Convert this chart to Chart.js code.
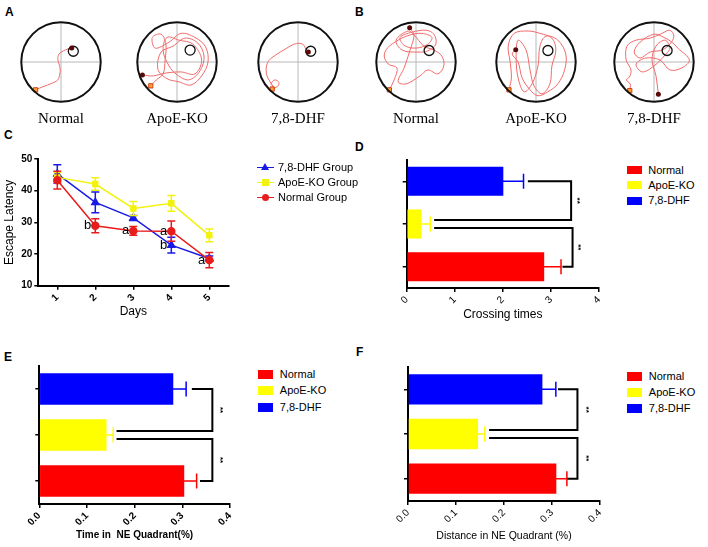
<!DOCTYPE html>
<html>
<head>
<meta charset="utf-8">
<script src="https://cdn.jsdelivr.net/npm/chart.js@4"></script>
<style>
  body { margin: 0; background: #fff; }
  #page { position: relative; width: 708px; height: 547px; overflow: hidden; font-family: "Liberation Sans", Arial, sans-serif; }
  #page canvas { position: absolute; }
  .letter { position: absolute; font-weight: bold; font-size: 12px; line-height: 14px; }
  .pool-label { position: absolute; width: 110px; text-align: center; font-family: "Liberation Serif", serif; font-size: 15px; line-height: 18px; }
  .lg { position: absolute; font-size: 11px; line-height: 13px; white-space: nowrap; }
  .lg-box { position: absolute; }
  .lg-line { position: absolute; height: 1.5px; width: 17px; }
  .mk { position: absolute; }
</style>
</head>
<body>
<div id="page">
  <div class="letter" style="left:5px;top:5px">A</div>
  <div class="letter" style="left:355px;top:5px">B</div>
  <div class="letter" style="left:4px;top:128px">C</div>
  <div class="letter" style="left:355px;top:140px">D</div>
  <div class="letter" style="left:4px;top:350px">E</div>
  <div class="letter" style="left:356px;top:345px">F</div>

  <canvas id="poolA0" width="100" height="100" style="left:11px;top:12px"></canvas>
  <canvas id="poolA1" width="100" height="100" style="left:127px;top:12px"></canvas>
  <canvas id="poolA2" width="100" height="100" style="left:248px;top:12px"></canvas>
  <canvas id="poolB0" width="100" height="100" style="left:366px;top:12px"></canvas>
  <canvas id="poolB1" width="100" height="100" style="left:486px;top:12px"></canvas>
  <canvas id="poolB2" width="100" height="100" style="left:604px;top:12px"></canvas>

  <canvas id="chartLatency" width="240" height="173" style="left:0px;top:150px"></canvas>
  <canvas id="chartCrossing" width="260" height="176" style="left:354px;top:150px"></canvas>
  <canvas id="chartTime" width="250" height="192" style="left:0px;top:355px"></canvas>
  <canvas id="chartDistance" width="260" height="192" style="left:354px;top:355px"></canvas>
</div>
<script>
// ---- data ----
const groups = ['Normal', 'ApoE-KO', '7,8-DHF'];
const groupColors = ['#ff0000', '#ffff00', '#0000ff'];

const days = ['1', '2', '3', '4', '5'];
const latencySeries = ['7,8-DHF Group', 'ApoE-KO Group', 'Normal Group'];
const latencyDHF = [45.3, 36.3, 31.4, 22.8, 18.6];
const latencyDHFErr = [2.9, 3.3, 0.8, 2.5, 0.8];
const latencyApoE = [44.2, 42.1, 34.4, 36.0, 25.9];
const latencyApoEErr = [1.5, 2.0, 2.2, 2.5, 2.0];
const latencyNormal = [43.3, 28.9, 27.3, 27.2, 18.1];
const latencyNormalErr = [2.8, 2.2, 1.4, 3.2, 2.4];

// significance letters on the latency chart
const letterSeries = ['Normal Group', 'Normal Group', 'Normal Group', '7,8-DHF Group', 'Normal Group'];
const letterDay = ['2', '3', '4', '4', '5'];
const letterText = ['b', 'a', 'a', 'b', 'a'];

const crossings = [2.86, 0.31, 2.01];
const crossingsErr = [0.35, 0.18, 0.42];
const timeNE = [0.304, 0.141, 0.281];
const timeNEErr = [0.026, 0.014, 0.027];
const distNE = [0.309, 0.146, 0.280];
const distNEErr = [0.022, 0.014, 0.028];

// brackets: [from group, to group, x start, x right, x end]
const crossBrackets = [[2, 1, 2.52, 3.42, 0.57], [1, 0, 0.57, 3.45, 3.24]];
const timeBrackets = [[2, 1, 0.32, 0.363, 0.162], [1, 0, 0.162, 0.363, 0.337]];
const distBrackets = [[2, 1, 0.3125, 0.353, 0.169], [1, 0, 0.169, 0.353, 0.332]];

// swim paths, pool radius = 1, first point = start, last point = end
const platformA = [[0.31, 0.27], [0.33, 0.30], [0.32, 0.27]];
const platformB = [[0.33, 0.29], [0.30, 0.29], [0.33, 0.29]];

const pathANormal = [[-0.64, -0.70], [-0.45, -0.62], [-0.24, -0.54], [-0.08, -0.45], [-0.03, -0.30],
  [-0.02, -0.18], [-0.05, -0.05], [-0.08, 0.08], [-0.05, 0.20], [0.06, 0.28], [0.18, 0.33], [0.27, 0.35]];
const pathAApoE = [[-0.66, -0.60], [-0.52, -0.45], [-0.35, -0.30], [-0.30, 0.05], [-0.28, 0.45], [-0.40, 0.70],
  [-0.62, 0.62], [-0.55, 0.35], [-0.20, 0.50], [0.10, 0.72], [0.45, 0.62], [0.72, 0.38], [0.78, 0.0],
  [0.62, -0.35], [0.35, -0.58], [0.05, -0.50], [-0.25, -0.42], [-0.48, -0.18], [-0.40, 0.25], [-0.10, 0.40],
  [0.20, 0.60], [0.52, 0.48], [0.68, 0.15], [0.58, -0.22], [0.30, -0.45], [0.0, -0.32], [-0.20, -0.10],
  [-0.35, 0.30], [-0.25, 0.62], [0.05, 0.55], [0.40, 0.45], [0.62, 0.05], [0.45, -0.30], [0.10, -0.25],
  [-0.30, -0.28], [-0.60, -0.35], [-0.87, -0.33]];
const pathADHF = [[-0.65, -0.68], [-0.52, -0.62], [-0.48, -0.52], [-0.58, -0.45], [-0.68, -0.55], [-0.62, -0.62],
  [-0.70, -0.50], [-0.78, -0.35], [-0.80, -0.15], [-0.74, 0.03], [-0.60, 0.15], [-0.45, 0.25], [-0.28, 0.35],
  [-0.12, 0.44], [0.05, 0.47], [0.15, 0.42], [0.20, 0.32], [0.26, 0.25]];
const pathBNormal = [[-0.67, -0.70], [-0.55, -0.45], [-0.48, -0.15], [-0.70, -0.05], [-0.80, 0.15], [-0.72, 0.35],
  [-0.45, 0.55], [-0.15, 0.68], [0.15, 0.72], [0.40, 0.62], [0.30, 0.45], [0.0, 0.35], [-0.30, 0.42],
  [-0.40, 0.62], [-0.10, 0.75], [0.25, 0.80], [0.45, 0.70], [0.50, 0.45], [0.30, 0.28], [0.05, 0.25],
  [-0.35, 0.30], [-0.50, 0.55], [-0.20, 0.78], [-0.05, 0.68], [0.20, 0.40], [0.45, 0.30], [0.65, 0.15],
  [0.70, -0.10], [0.55, -0.30], [0.30, -0.20], [0.10, -0.35], [-0.25, -0.55], [-0.45, -0.50], [-0.30, -0.15],
  [-0.15, 0.30], [-0.05, 0.68], [-0.16, 0.86]];
const pathBApoE = [[-0.68, -0.70], [-0.62, -0.40], [-0.65, 0.0], [-0.70, 0.40], [-0.55, 0.72], [-0.20, 0.78],
  [0.10, 0.72], [0.40, 0.60], [0.50, 0.30], [0.40, -0.10], [0.35, -0.55], [0.15, -0.80], [-0.05, -0.60],
  [-0.15, -0.20], [-0.25, 0.30], [-0.45, 0.55], [-0.50, 0.10], [-0.45, -0.40], [-0.30, -0.75], [-0.10, -0.55],
  [0.05, -0.10], [0.10, 0.40], [0.25, 0.65], [0.55, 0.55], [0.75, 0.20], [0.72, -0.20], [0.55, -0.55],
  [0.30, -0.75], [0.05, -0.85], [-0.15, -0.70], [-0.35, -0.40], [-0.45, 0.0], [-0.60, 0.20], [-0.51, 0.31]];
const pathBDHF = [[-0.61, -0.72], [-0.60, -0.55], [-0.70, -0.45], [-0.62, -0.38], [-0.58, -0.20], [-0.70, 0.05],
  [-0.68, 0.40], [-0.45, 0.55], [-0.10, 0.60], [0.20, 0.72], [0.40, 0.80], [0.50, 0.65], [0.40, 0.45],
  [0.20, 0.30], [-0.10, 0.25], [-0.35, 0.10], [-0.50, 0.25], [-0.35, 0.50], [0.0, 0.70], [0.25, 0.62],
  [0.45, 0.50], [0.60, 0.35], [0.89, 0.05], [0.70, -0.15], [0.40, -0.20], [0.15, 0.05], [-0.20, 0.10],
  [-0.45, -0.05], [-0.30, -0.25], [0.0, -0.10], [0.30, 0.20], [0.40, 0.35], [0.28, 0.55], [0.05, 0.40],
  [-0.05, 0.05], [0.05, -0.35], [0.11, -0.81]];
const crossH = [[-1, 0], [1, 0]];
const crossV = [[0, -1], [0, 1]];

Chart.defaults.font.family = '"Liberation Sans", Arial, sans-serif';
Chart.defaults.color = '#000';
Chart.defaults.animation = false;

// ---- plugins ----
const poolRingPlugin = {
  id: 'poolRing',
  afterDatasetsDraw(chart) {
    const { x, y } = chart.scales;
    const cx = x.getPixelForValue(0);
    const cy = y.getPixelForValue(0);
    const r = x.getPixelForValue(1) - cx;
    const ctx = chart.ctx;
    ctx.save();
    ctx.strokeStyle = '#111';
    ctx.lineWidth = 2;
    ctx.beginPath();
    ctx.arc(cx, cy, r, 0, Math.PI * 2);
    ctx.stroke();
    ctx.restore();
  },
};

const errorBarsPlugin = {
  id: 'errorBars',
  afterDatasetDraw(chart, args, opts) {
    const errs = opts.errors && opts.errors[args.index];
    if (!errs) return;
    const ds = chart.data.datasets[args.index];
    const horiz = chart.options.indexAxis === 'y';
    const vScale = horiz ? chart.scales.x : chart.scales.y;
    const ctx = chart.ctx;
    const c = opts.cap;
    ctx.save();
    ctx.lineWidth = 1.5;
    args.meta.data.forEach((el, j) => {
      const v = ds.data[j];
      ctx.strokeStyle = Array.isArray(ds.backgroundColor) ? ds.backgroundColor[j] : ds.borderColor;
      const hi = vScale.getPixelForValue(v + errs[j]);
      const lo = vScale.getPixelForValue(horiz ? v : v - errs[j]);
      ctx.beginPath();
      if (horiz) {
        ctx.moveTo(lo - 3, el.y);
        ctx.lineTo(hi, el.y);
        ctx.moveTo(hi, el.y - c);
        ctx.lineTo(hi, el.y + c);
      } else {
        ctx.moveTo(el.x, lo);
        ctx.lineTo(el.x, hi);
        ctx.moveTo(el.x - c, hi);
        ctx.lineTo(el.x + c, hi);
        ctx.moveTo(el.x - c, lo);
        ctx.lineTo(el.x + c, lo);
      }
      ctx.stroke();
    });
    ctx.restore();
  },
};

const bracketsPlugin = {
  id: 'sigBrackets',
  afterDatasetsDraw(chart, args, opts) {
    const { x, y } = chart.scales;
    const ctx = chart.ctx;
    ctx.save();
    ctx.strokeStyle = '#000';
    ctx.fillStyle = '#000';
    ctx.lineWidth = 2;
    ctx.font = 'bold 8px "Liberation Sans"';
    ctx.textAlign = 'center';
    ctx.textBaseline = 'middle';
    opts.brackets.forEach(([from, to, xStart, xRight, xEnd]) => {
      let yA = y.getPixelForValue(from);
      let yB = y.getPixelForValue(to);
      if (from === 1) yA += yB > yA ? 4 : -4;
      if (to === 1) yB += yA > yB ? 4 : -4;
      const xr = x.getPixelForValue(xRight);
      ctx.beginPath();
      ctx.moveTo(x.getPixelForValue(xStart), yA);
      ctx.lineTo(xr, yA);
      ctx.lineTo(xr, yB);
      ctx.lineTo(x.getPixelForValue(xEnd), yB);
      ctx.stroke();
      ctx.save();
      ctx.translate(xr + opts.starOffset, (yA + yB) / 2);
      ctx.rotate(Math.PI / 2);
      ctx.fillText('**', 0, 0);
      ctx.restore();
    });
    ctx.restore();
  },
};

const lettersPlugin = {
  id: 'letters',
  afterDatasetsDraw(chart) {
    const ctx = chart.ctx;
    ctx.save();
    ctx.font = '13px "Liberation Sans"';
    ctx.fillStyle = '#000';
    ctx.textAlign = 'right';
    ctx.textBaseline = 'middle';
    letterText.forEach((t, i) => {
      const dsIndex = chart.data.datasets.findIndex((d) => d.label === letterSeries[i]);
      const el = chart.getDatasetMeta(dsIndex).data[days.indexOf(letterDay[i])];
      ctx.fillText(t, el.x - 4, el.y);
    });
    ctx.restore();
  },
};

function toPts(list) {
  return list.map(([x, y]) => ({ x, y }));
}

function axisGrid() {
  return { display: true, drawOnChartArea: false, drawTicks: true, tickLength: 4, color: '#000', lineWidth: 1.5, offset: false };
}

// ---- swim paths ----
function makePool(id, path, platform) {
  new Chart(document.getElementById(id), {
    type: 'scatter',
    data: {
      datasets: [
        { data: toPts([path[path.length - 1]]), pointRadius: 2.5, backgroundColor: '#5a0808', borderWidth: 0 },
        { data: toPts([path[0]]), pointStyle: 'rect', pointRadius: 3, backgroundColor: '#f7a030', borderColor: '#d0401a', borderWidth: 1 },
        { data: toPts([platform]), pointRadius: 5, backgroundColor: 'rgba(0,0,0,0)', borderColor: '#111', borderWidth: 1.3 },
        { data: toPts(path), showLine: true, tension: 0.35, borderColor: '#f26a6a', borderWidth: 1, pointRadius: 0 },
        { data: toPts(crossH), showLine: true, borderColor: '#b8b8b8', borderWidth: 1, pointRadius: 0 },
        { data: toPts(crossV), showLine: true, borderColor: '#b8b8b8', borderWidth: 1, pointRadius: 0 },
      ],
    },
    options: {
      responsive: false,
      events: [],
      layout: { padding: 0 },
      plugins: { legend: { display: false }, tooltip: { enabled: false } },
      scales: {
        x: { display: false, min: -1.1, max: 1.1 },
        y: { display: false, min: -1.1, max: 1.1 },
      },
    },
    plugins: [poolRingPlugin],
  });
}

makePool('poolA0', pathANormal, platformA[0]);
makePool('poolA1', pathAApoE, platformA[1]);
makePool('poolA2', pathADHF, platformA[2]);
makePool('poolB0', pathBNormal, platformB[0]);
makePool('poolB1', pathBApoE, platformB[1]);
makePool('poolB2', pathBDHF, platformB[2]);

// ---- escape latency ----
const latencyColors = ['#1a1ae6', '#f2f20f', '#e81c1c'];
const latencyPoints = ['triangle', 'rect', 'circle'];
new Chart(document.getElementById('chartLatency'), {
  type: 'line',
  data: {
    labels: days,
    datasets: [latencyDHF, latencyApoE, latencyNormal].map((vals, i) => ({
      label: latencySeries[i],
      data: vals,
      borderColor: latencyColors[i],
      backgroundColor: latencyColors[i],
      pointBackgroundColor: latencyColors[i],
      pointBorderColor: latencyColors[i],
      pointStyle: latencyPoints[i],
      pointRadius: i === 0 ? 4 : 3.5,
      borderWidth: 1.5,
      order: 3 - i,
    })),
  },
  options: {
    responsive: false,
    events: [],
    layout: { padding: { top: 9, right: 11.7, left: 0, bottom: 0 } },
    plugins: {
      legend: { display: false },
      tooltip: { enabled: false },
      errorBars: { errors: [latencyDHFErr, latencyApoEErr, latencyNormalErr], cap: 4 },
    },
    scales: {
      x: {
        type: 'category',
        offset: true,
        grid: axisGrid(),
        border: { display: true, color: '#000', width: 2 },
        ticks: { minRotation: 45, maxRotation: 45, padding: 2, font: { size: 10, weight: 'bold' } },
        title: { display: true, text: 'Days', font: { size: 12 } },
        afterFit: (s) => { s.height = 37.3; },
      },
      y: {
        min: 10,
        max: 50,
        grid: axisGrid(),
        border: { display: true, color: '#000', width: 2 },
        ticks: { stepSize: 10, padding: 2, font: { size: 10, weight: 'bold' } },
        title: { display: true, text: 'Escape Latency', font: { size: 12 }, padding: { top: 2, bottom: 0 } },
        afterFit: (s) => { s.width = 38.3; },
      },
    },
  },
  plugins: [errorBarsPlugin, lettersPlugin],
});

// ---- horizontal bar panels ----
function makeBars(id, values, errs, brackets, cfg) {
  new Chart(document.getElementById(id), {
    type: 'bar',
    data: {
      labels: groups,
      datasets: [{
        data: values,
        backgroundColor: groupColors,
        borderWidth: 0,
        barPercentage: 0.68,
        categoryPercentage: 1,
      }],
    },
    options: {
      indexAxis: 'y',
      responsive: false,
      events: [],
      layout: { padding: cfg.padding },
      plugins: {
        legend: { display: false },
        tooltip: { enabled: false },
        errorBars: { errors: [errs], cap: 7.5 },
        sigBrackets: { brackets, starOffset: cfg.starOffset },
      },
      scales: {
        x: {
          type: 'linear',
          min: 0,
          max: cfg.max,
          grid: axisGrid(),
          border: { display: true, color: '#000', width: 2 },
          ticks: {
            stepSize: cfg.step,
            minRotation: 45,
            maxRotation: 45,
            padding: 2,
            font: { size: 10, weight: cfg.bold ? 'bold' : 'normal' },
            callback: (v) => Number(v).toFixed(cfg.decimals),
          },
          title: { display: true, text: cfg.title, font: { size: cfg.titleSize, weight: cfg.bold ? 'bold' : 'normal' } },
          afterFit: (s) => { s.height = cfg.xHeight; },
        },
        y: {
          reverse: true,
          offset: true,
          grid: axisGrid(),
          border: { display: true, color: '#000', width: 2 },
          ticks: { display: false },
          afterFit: (s) => { s.width = cfg.yWidth; },
        },
      },
    },
    plugins: [errorBarsPlugin, bracketsPlugin],
  });
}

makeBars('chartCrossing', crossings, crossingsErr, crossBrackets, {
  max: 4, step: 1, decimals: 0, bold: false, title: 'Crossing times', titleSize: 12,
  padding: { top: 10, right: 15, left: 0, bottom: 0 }, yWidth: 52.7, xHeight: 38, starOffset: 6,
});
makeBars('chartTime', timeNE, timeNEErr, timeBrackets, {
  max: 0.4, step: 0.1, decimals: 1, bold: true, title: 'Time in  NE Quadrant(%)', titleSize: 10,
  padding: { top: 11, right: 20, left: 0, bottom: 1.3 }, yWidth: 39.3, xHeight: 41.7, starOffset: 7.5,
});
makeBars('chartDistance', distNE, distNEErr, distBrackets, {
  max: 0.4, step: 0.1, decimals: 1, bold: false, title: 'Distance in NE Quadrant (%)', titleSize: 10.5,
  padding: { top: 12, right: 14, left: 0, bottom: 1 }, yWidth: 54, xHeight: 45, starOffset: 9,
});

// ---- labels and legends ----
const page = document.getElementById('page');
function addDiv(cls, css, text) {
  const d = document.createElement('div');
  d.className = cls;
  d.style.cssText = css;
  if (text) d.textContent = text;
  page.appendChild(d);
  return d;
}

const poolCentersA = [61, 177, 298];
const poolCentersB = [416, 536, 654];
groups.forEach((g, i) => {
  addDiv('pool-label', `left:${poolCentersA[i] - 55}px;top:109px`, g);
  addDiv('pool-label', `left:${poolCentersB[i] - 55}px;top:109px`, g);
});

// latency legend (line + marker)
const latencyLegendRows = [167.3, 182.7, 197.3];
latencySeries.forEach((name, i) => {
  const yc = latencyLegendRows[i];
  addDiv('lg-line', `left:257px;top:${yc - 0.75}px;background:${latencyColors[i]}`);
  if (latencyPoints[i] === 'triangle') {
    addDiv('mk', `left:261px;top:${yc - 4}px;width:0;height:0;border-left:4px solid transparent;border-right:4px solid transparent;border-bottom:7px solid ${latencyColors[i]}`);
  } else {
    const round = latencyPoints[i] === 'circle' ? 'border-radius:50%;' : '';
    addDiv('mk', `left:262px;top:${yc - 3.5}px;width:7px;height:7px;${round}background:${latencyColors[i]}`);
  }
  addDiv('lg', `left:278px;top:${yc - 6.5}px`, name);
});

// bar legends
function barLegend(boxLeft, rows, boxH) {
  groups.forEach((g, i) => {
    addDiv('lg-box', `left:${boxLeft}px;top:${rows[i] - boxH / 2}px;width:15px;height:${boxH}px;background:${groupColors[i]}`);
    addDiv('lg', `left:${boxLeft + 21.5}px;top:${rows[i] - 6.5}px`, g);
  });
}
barLegend(626.7, [170, 185, 200.5], 8);
barLegend(258.3, [374.5, 390.7, 407.7], 9);
barLegend(627.3, [376, 392, 408.3], 9);
</script>
</body>
</html>
